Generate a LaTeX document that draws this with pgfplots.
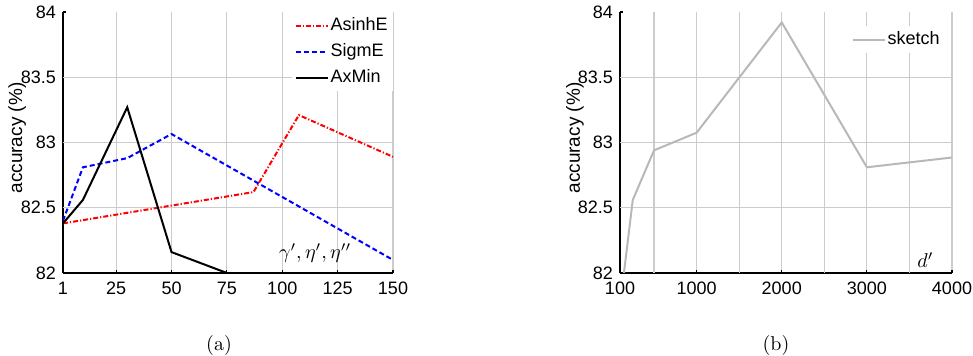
\documentclass[border=0pt]{standalone}
\usepackage{pgfplots}
\pgfplotsset{compat=1.18}
\usepackage{fontspec}
\setsansfont{Liberation Sans}
\definecolor{gridgray}{gray}{0.8}
\definecolor{sketchgray}{gray}{0.72}
\pgfplotsset{
  mystyle/.style={
    scale only axis,
    axis x line*=bottom, axis y line*=left,
    axis line style={black, line width=0.8pt},
    tick align=inside,
    major tick length=1.5pt,
    tick style={black, line width=0.6pt},
    /pgf/number format/assume math mode=true,
    tick label style={font=\fontsize{9}{10}\sffamily},
    xticklabel style={yshift=-1pt},
    ylabel style={font=\fontsize{9.5}{11}\sffamily},
    ymin=82, ymax=84,
    ytick={82,82.5,83,83.5,84},
    yticklabels={82,82.5,83,83.5,84},
    extra y ticks={82.5,83,83.5},
    extra y tick labels={},
    extra y tick style={grid=major, major tick length=0pt},
    xmajorgrids=true,
    grid style={gridgray, line width=0.6pt},
    legend cell align=left,
    legend image code/.code={\draw[#1] (0pt,0pt) -- (16pt,0pt);},
    legend style={draw=none, fill=white, font=\fontsize{9}{10}\sffamily,
      inner sep=1.5pt, row sep=2.6pt,
      nodes={inner sep=1pt, text height=6.6pt, text depth=1.8pt}},
  }
}
\begin{document}
\begin{tikzpicture}
\begin{axis}[mystyle,
  at={(31.5pt,41.5pt)}, anchor=south west,
  width=165pt, height=130.5pt,
  xmin=1, xmax=150,
  xtick={1,25,50,75,100,125,150},
  xticklabels={1,25,50,75,100,125,150},
  ylabel={accuracy (\%)},
  ylabel style={at={(axis description cs:-0.139,0.517)}, anchor=center},
  legend style={at={(rel axis cs:1,1)}, anchor=north east},
]
\addplot[red, line width=1pt, dash pattern=on 2.5pt off 1pt on 0.6pt off 1pt] coordinates {
  (1,82.38) (87,82.62) (107.5,83.21) (150,82.89)
};
\addlegendentry{AsinhE}
\addplot[blue, line width=1pt, dash pattern=on 2.5pt off 1.5pt] coordinates {
  (1,82.40) (10,82.81) (30,82.88) (50,83.065) (150,82.10)
};
\addlegendentry{SigmE}
\addplot[black, line width=1pt] coordinates {
  (1,82.38) (10,82.56) (30,83.27) (50,82.16) (75,82.0)
};
\addlegendentry{AxMin}
\node[font=\fontsize{10}{11}\selectfont] at (rel axis cs:0.764,0.077) {$\gamma',\eta',\eta''$};
\end{axis}

\begin{axis}[mystyle,
  at={(310pt,41.5pt)}, anchor=south west,
  width=166pt, height=130.5pt,
  xmin=100, xmax=4000,
  xtick={100,1000,2000,3000,4000},
  xticklabels={100,1000,2000,3000,4000},
  extra x ticks={500,1500,2500,3500},
  extra x tick labels={},
  extra x tick style={grid=major, major tick length=0pt},
  ylabel={accuracy (\%)},
  ylabel style={at={(axis description cs:-0.136,0.517)}, anchor=center},
  legend style={at={(rel axis cs:0.979,0.946)}, anchor=north east},
]
\addplot[sketchgray, line width=1pt] coordinates {
  (100,81.75) (250,82.56) (500,82.94) (1000,83.075) (2000,83.92) (3000,82.81) (4000,82.885)
};
\addlegendentry{sketch}
\node[font=\fontsize{10}{11}\selectfont] at (rel axis cs:0.92,0.05) {$d'$};
\end{axis}

\node[font=\fontsize{10}{12}\selectfont] at (109.5pt,5.3pt) {(a)};
\node[font=\fontsize{10}{12}\selectfont] at (388pt,5.3pt) {(b)};

\pgfresetboundingbox
\path[use as bounding box] (0,0) rectangle (486.5pt,178pt);
\end{tikzpicture}
\end{document}
